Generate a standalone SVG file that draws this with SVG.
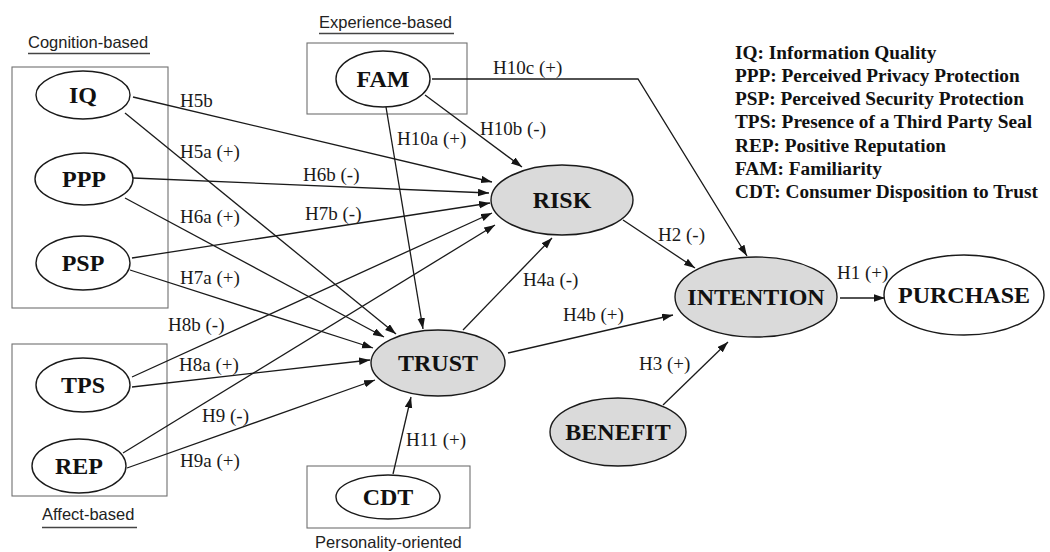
<svg xmlns="http://www.w3.org/2000/svg" width="1050" height="552" viewBox="0 0 1050 552">
<defs>
<marker id="arr" markerUnits="userSpaceOnUse" markerWidth="12" markerHeight="8" refX="11" refY="3.75" orient="auto">
<path d="M0,0 L11,3.75 L0,7.5 z" fill="#151515"/>
</marker>
<style>
.bg{fill:#fff}
.box{fill:none;stroke:#707070;stroke-width:1.1}
.nd{fill:#fff;stroke:#1a1a1a;stroke-width:1.4}
.nd.g{fill:#dadada}
.nt{font-family:"Liberation Serif","Times New Roman",serif;font-weight:bold;font-size:24px;fill:#111;text-anchor:middle}
.el{fill:none;stroke:#1a1a1a;stroke-width:1.3;marker-end:url(#arr)}
.lb{font-family:"Liberation Serif","Times New Roman",serif;font-size:19px;fill:#1a1a1a}
.grp{font-family:"Liberation Sans",Arial,sans-serif;font-size:16.5px;fill:#222}
.ul{stroke:#444;stroke-width:1.5}
.lg{font-family:"Liberation Serif","Times New Roman",serif;font-weight:bold;font-size:19.3px;fill:#111}
</style>
</defs>
<rect class="bg" x="0" y="0" width="1050" height="552"/>

<g id="group-boxes">
<rect class="box" x="12" y="67" width="156" height="241"/>
<rect class="box" x="12" y="344" width="155" height="152"/>
<rect class="box" x="307" y="43" width="160" height="71"/>
<rect class="box" x="307" y="466" width="163" height="62"/>
<text class="grp" x="28" y="48">Cognition-based</text>
<line class="ul" x1="28" y1="53.5" x2="150" y2="53.5"/>
<text class="grp" x="42" y="520">Affect-based</text>
<line class="ul" x1="42" y1="527.5" x2="137" y2="527.5"/>
<text class="grp" x="319" y="28">Experience-based</text>
<line class="ul" x1="319" y1="33.5" x2="454" y2="33.5"/>
<text class="grp" x="315" y="548">Personality-oriented</text>
</g>

<g id="connectors">
<path class="el" d="M133,97 L492,182"/>
<path class="el" d="M125,113 L396,334"/>
<path class="el" d="M133,178 L489,193"/>
<path class="el" d="M125,198 L384,337"/>
<path class="el" d="M132,258 L490,203"/>
<path class="el" d="M130,270 L373,348"/>
<path class="el" d="M132,377 L492,213"/>
<path class="el" d="M132,387 L370,360"/>
<path class="el" d="M123,453 L495,225"/>
<path class="el" d="M127,468 L375,380"/>
<path class="el" d="M425,95 L522,167"/>
<path class="el" d="M386,107 L423,329"/>
<path class="el" d="M432,79 L638,79 L747,256"/>
<path class="el" d="M463,330 L552,238"/>
<path class="el" d="M508,353 L673,315"/>
<path class="el" d="M623,220 L695,268"/>
<path class="el" d="M663,405 L728,342"/>
<path class="el" d="M840,298 L885,298"/>
<path class="el" d="M393,474 L411,397"/>
<text class="lb" x="180" y="107">H5b</text>
<text class="lb" x="180" y="158">H5a (+)</text>
<text class="lb" x="303" y="181">H6b (-)</text>
<text class="lb" x="180" y="223">H6a (+)</text>
<text class="lb" x="305" y="220">H7b (-)</text>
<text class="lb" x="180" y="284">H7a (+)</text>
<text class="lb" x="168" y="331">H8b (-)</text>
<text class="lb" x="179" y="371">H8a (+)</text>
<text class="lb" x="202" y="422">H9 (-)</text>
<text class="lb" x="180" y="467">H9a (+)</text>
<text class="lb" x="493" y="74">H10c (+)</text>
<text class="lb" x="397" y="145">H10a (+)</text>
<text class="lb" x="480" y="135">H10b (-)</text>
<text class="lb" x="523" y="286">H4a (-)</text>
<text class="lb" x="563" y="321">H4b (+)</text>
<text class="lb" x="658" y="241">H2 (-)</text>
<text class="lb" x="837" y="279">H1 (+)</text>
<text class="lb" x="639" y="370">H3 (+)</text>
<text class="lb" x="406" y="446">H11 (+)</text>
</g>

<g id="node-IQ"><ellipse class="nd" cx="83" cy="95" rx="47" ry="24"/><text class="nt" x="83" y="103">IQ</text></g>
<g id="node-PPP"><ellipse class="nd" cx="84" cy="179" rx="49" ry="26"/><text class="nt" x="84" y="187">PPP</text></g>
<g id="node-PSP"><ellipse class="nd" cx="83" cy="263" rx="47" ry="27"/><text class="nt" x="83" y="271">PSP</text></g>
<g id="node-TPS"><ellipse class="nd" cx="83" cy="385" rx="47" ry="27"/><text class="nt" x="83" y="393">TPS</text></g>
<g id="node-REP"><ellipse class="nd" cx="79" cy="466" rx="47" ry="27"/><text class="nt" x="79" y="474">REP</text></g>
<g id="node-FAM"><ellipse class="nd" cx="383" cy="79" rx="47" ry="28"/><text class="nt" x="383" y="87">FAM</text></g>
<g id="node-RISK"><ellipse class="nd g" cx="562" cy="200" rx="71" ry="35"/><text class="nt" x="562" y="208">RISK</text></g>
<g id="node-TRUST"><ellipse class="nd g" cx="438" cy="363" rx="67" ry="33"/><text class="nt" x="438" y="371">TRUST</text></g>
<g id="node-CDT"><ellipse class="nd" cx="388" cy="497" rx="52" ry="22"/><text class="nt" x="388" y="505">CDT</text></g>
<g id="node-BENEFIT"><ellipse class="nd g" cx="618" cy="432" rx="68" ry="34"/><text class="nt" x="618" y="440">BENEFIT</text></g>
<g id="node-INTENTION"><ellipse class="nd g" cx="756" cy="297" rx="81" ry="40"/><text class="nt" x="756" y="305">INTENTION</text></g>
<g id="node-PURCHASE"><ellipse class="nd" cx="964" cy="295" rx="80" ry="40"/><text class="nt" x="964" y="303">PURCHASE</text></g>

<g id="legend">
<text class="lg" x="735" y="58.5">IQ: Information Quality</text>
<text class="lg" x="735" y="81.8">PPP: Perceived Privacy Protection</text>
<text class="lg" x="735" y="105.1">PSP: Perceived Security Protection</text>
<text class="lg" x="735" y="128.4">TPS: Presence of a Third Party Seal</text>
<text class="lg" x="735" y="151.7">REP: Positive Reputation</text>
<text class="lg" x="735" y="175">FAM: Familiarity</text>
<text class="lg" x="735" y="198.3">CDT: Consumer Disposition to Trust</text>
</g>
</svg>
